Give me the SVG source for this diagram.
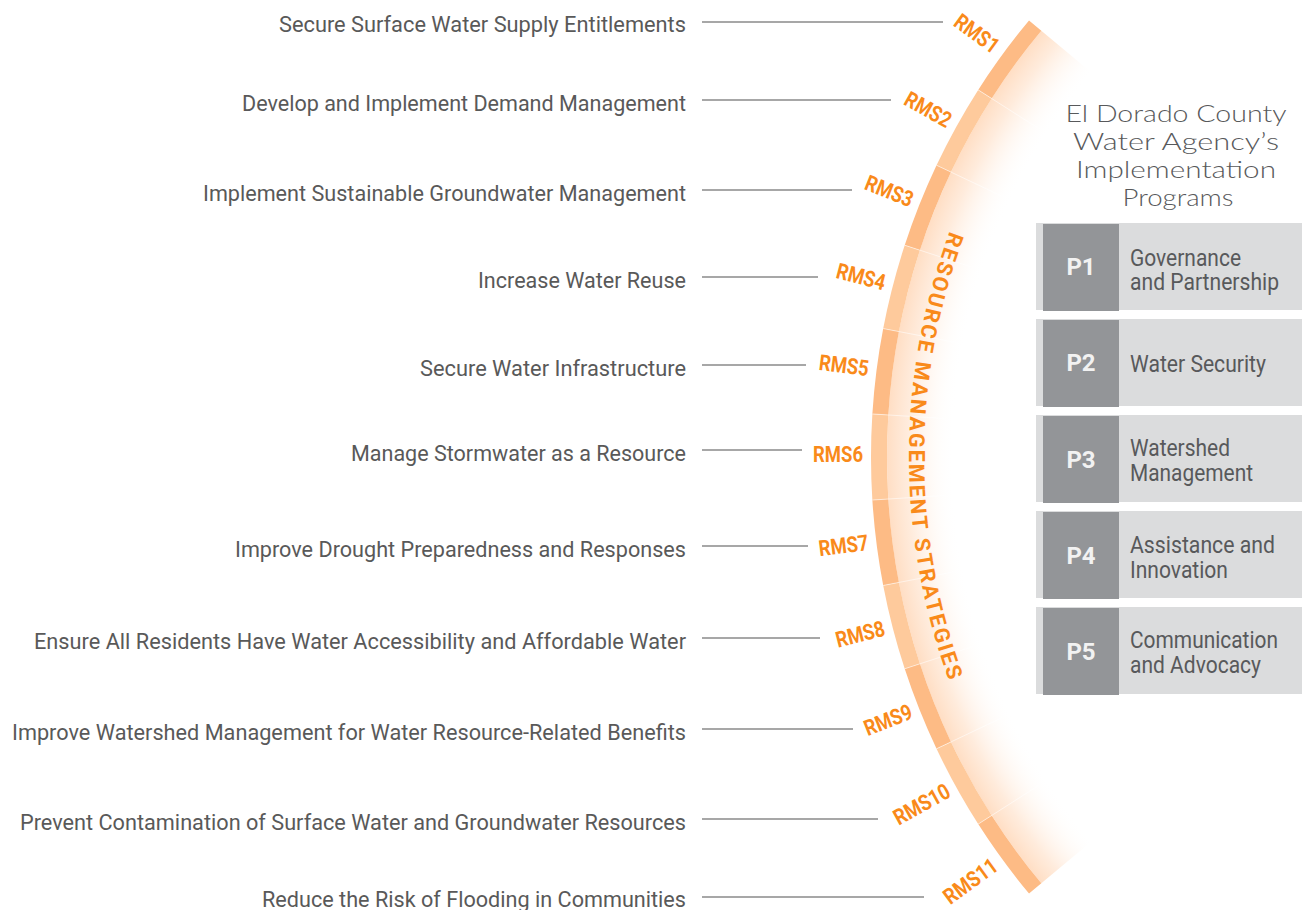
<svg xmlns="http://www.w3.org/2000/svg" width="1302" height="910" viewBox="0 0 1302 910">
<style>
.lt{font-family:Roboto,'Liberation Sans',sans-serif;font-size:22.5px;fill:#595959;text-anchor:end}
.ln{stroke:#8a8a8a;stroke-width:1.3;fill:none}
.rms{font-family:Roboto,'Liberation Sans',sans-serif;font-weight:700;font-size:22px;fill:#F98A1A;text-anchor:end}
.segA{fill:none;stroke:#FDBB85;stroke-width:16}
.segB{fill:none;stroke:#FECA9C;stroke-width:16}
.div{stroke:#ffffff;stroke-opacity:0.55;stroke-width:1}
.arcTitle{font-family:Roboto,'Liberation Sans',sans-serif;font-weight:700;font-size:21.5px;fill:#F98A1A;letter-spacing:2.3px}
.title{font-family:Lato,'Open Sans',sans-serif;font-weight:300;font-size:24px;fill:#58595B;text-anchor:middle}
.bgL{fill:#DBDCDD}
.bgD{fill:#939598}
.pl{font-family:Roboto,'Liberation Sans',sans-serif;font-weight:700;font-size:24px;fill:#F2F2F2;text-anchor:middle}
.pt{font-family:Roboto,'Liberation Sans',sans-serif;font-size:23px;fill:#58595B}
</style>
<defs>
<radialGradient id="fade" gradientUnits="userSpaceOnUse" cx="1553" cy="457" r="666">
<stop offset="0.9" stop-color="#FFFFFF" stop-opacity="0"/>
<stop offset="0.97" stop-color="#FFE8D6" stop-opacity="0.85"/>
<stop offset="1" stop-color="#FFDEC4"/>
</radialGradient>
<path id="titleArc" d="M 1058.23 44.76 A 644 644 0 0 0 1058.23 869.24"/>
</defs>

<g id="arc">
<path d="M 1066.68 51.80 A 633 633 0 0 0 1066.68 862.20" fill="none" stroke="url(#fade)" stroke-width="66"/>
</g>

<g id="rms-1"><path class="segA" d="M 1035.18 25.56 A 674 674 0 0 0 984.93 94.21"/><text class="rms" transform="translate(996.07 49.65) rotate(36.18)" y="6" textLength="50" lengthAdjust="spacingAndGlyphs">RMS1</text></g>
<g id="rms-2"><path class="segB" d="M 984.93 94.21 A 674 674 0 0 0 943.77 168.67"/><text class="rms" transform="translate(949.19 123.06) rotate(28.95)" y="6" textLength="50" lengthAdjust="spacingAndGlyphs">RMS2</text></g>
<g id="rms-3"><path class="segA" d="M 943.77 168.67 A 674 674 0 0 0 912.32 247.70"/><text class="rms" transform="translate(911.93 201.77) rotate(21.71)" y="6" textLength="50" lengthAdjust="spacingAndGlyphs">RMS3</text></g>
<g id="rms-4"><path class="segB" d="M 912.32 247.70 A 674 674 0 0 0 891.06 330.07"/><text class="rms" transform="translate(884.87 284.55) rotate(14.47)" y="6" textLength="50" lengthAdjust="spacingAndGlyphs">RMS4</text></g>
<g id="rms-5"><path class="segA" d="M 891.06 330.07 A 674 674 0 0 0 880.34 414.47"/><text class="rms" transform="translate(868.49 370.09) rotate(7.24)" y="6" textLength="50" lengthAdjust="spacingAndGlyphs">RMS5</text></g>
<g id="rms-6"><path class="segB" d="M 880.34 414.47 A 674 674 0 0 0 880.34 499.53"/><text class="rms" transform="translate(863 457)" y="5" textLength="50" lengthAdjust="spacingAndGlyphs">RMS6</text></g>
<g id="rms-7"><path class="segA" d="M 880.34 499.53 A 674 674 0 0 0 891.06 583.93"/><text class="rms" transform="translate(868.49 543.91) rotate(-7.24)" y="6" textLength="50" lengthAdjust="spacingAndGlyphs">RMS7</text></g>
<g id="rms-8"><path class="segB" d="M 891.06 583.93 A 674 674 0 0 0 912.32 666.30"/><text class="rms" transform="translate(884.87 629.45) rotate(-14.47)" y="6" textLength="50" lengthAdjust="spacingAndGlyphs">RMS8</text></g>
<g id="rms-9"><path class="segA" d="M 912.32 666.30 A 674 674 0 0 0 943.77 745.33"/><text class="rms" transform="translate(911.93 712.23) rotate(-21.71)" y="6" textLength="50" lengthAdjust="spacingAndGlyphs">RMS9</text></g>
<g id="rms-10"><path class="segB" d="M 943.77 745.33 A 674 674 0 0 0 984.93 819.79"/><text class="rms" transform="translate(949.19 790.94) rotate(-28.95)" y="6" textLength="61" lengthAdjust="spacingAndGlyphs">RMS10</text></g>
<g id="rms-11"><path class="segA" d="M 984.93 819.79 A 674 674 0 0 0 1035.18 888.44"/><text class="rms" transform="translate(996.07 864.35) rotate(-36.18)" y="6" textLength="61" lengthAdjust="spacingAndGlyphs">RMS11</text></g>

<g id="dividers">
<line class="div" x1="978.19" y1="89.90" x2="1038.87" y2="128.66"/>
<line class="div" x1="936.54" y1="165.25" x2="1001.62" y2="196.05"/>
<line class="div" x1="904.71" y1="245.22" x2="973.15" y2="267.58"/>
<line class="div" x1="883.20" y1="328.56" x2="953.91" y2="342.12"/>
<line class="div" x1="872.36" y1="413.96" x2="944.22" y2="418.51"/>
<line class="div" x1="872.36" y1="500.04" x2="944.22" y2="495.49"/>
<line class="div" x1="883.20" y1="585.44" x2="953.91" y2="571.88"/>
<line class="div" x1="904.71" y1="668.78" x2="973.15" y2="646.42"/>
<line class="div" x1="936.54" y1="748.75" x2="1001.62" y2="717.95"/>
<line class="div" x1="978.19" y1="824.10" x2="1038.87" y2="785.34"/>
</g>

<g id="arc-title">
<text class="arcTitle"><textPath href="#titleArc" startOffset="50%" text-anchor="middle">RESOURCE MANAGEMENT STRATEGIES</textPath></text>
</g>

<g id="strategies">
<g id="strategy-1"><text class="lt" x="686" y="32" textLength="407" lengthAdjust="spacingAndGlyphs">Secure Surface Water Supply Entitlements</text></g>
<g id="strategy-2"><text class="lt" x="686" y="110.5" textLength="444" lengthAdjust="spacingAndGlyphs">Develop and Implement Demand Management</text></g>
<g id="strategy-3"><text class="lt" x="686" y="200.5" textLength="483" lengthAdjust="spacingAndGlyphs">Implement Sustainable Groundwater Management</text></g>
<g id="strategy-4"><text class="lt" x="686" y="287.5" textLength="208" lengthAdjust="spacingAndGlyphs">Increase Water Reuse</text></g>
<g id="strategy-5"><text class="lt" x="686" y="375.5" textLength="266" lengthAdjust="spacingAndGlyphs">Secure Water Infrastructure</text></g>
<g id="strategy-6"><text class="lt" x="686" y="460.5" textLength="335" lengthAdjust="spacingAndGlyphs">Manage Stormwater as a Resource</text></g>
<g id="strategy-7"><text class="lt" x="686" y="556.5" textLength="451" lengthAdjust="spacingAndGlyphs">Improve Drought Preparedness and Responses</text></g>
<g id="strategy-8"><text class="lt" x="686" y="648.5" textLength="652" lengthAdjust="spacingAndGlyphs">Ensure All Residents Have Water Accessibility and Affordable Water</text></g>
<g id="strategy-9"><text class="lt" x="686" y="739.5" textLength="674" lengthAdjust="spacingAndGlyphs">Improve Watershed Management for Water Resource-Related Benefits</text></g>
<g id="strategy-10"><text class="lt" x="686" y="829.5" textLength="666" lengthAdjust="spacingAndGlyphs">Prevent Contamination of Surface Water and Groundwater Resources</text></g>
<g id="strategy-11"><text class="lt" x="686" y="907" textLength="424" lengthAdjust="spacingAndGlyphs">Reduce the Risk of Flooding in Communities</text></g>
</g>

<g id="connectors">
<line class="ln" x1="702" y1="22" x2="943" y2="22"/>
<line class="ln" x1="702" y1="100" x2="891" y2="100"/>
<line class="ln" x1="702" y1="190" x2="852" y2="190"/>
<line class="ln" x1="702" y1="277" x2="818" y2="277"/>
<line class="ln" x1="702" y1="365" x2="806" y2="365"/>
<line class="ln" x1="702" y1="450" x2="802" y2="450"/>
<line class="ln" x1="702" y1="546" x2="808" y2="546"/>
<line class="ln" x1="702" y1="638" x2="820" y2="638"/>
<line class="ln" x1="702" y1="729" x2="853" y2="729"/>
<line class="ln" x1="702" y1="819" x2="878" y2="819"/>
<line class="ln" x1="702" y1="897" x2="924" y2="897"/>
</g>

<g id="programs-title">
<text class="title" x="1176" y="122" textLength="221" lengthAdjust="spacingAndGlyphs">El Dorado County</text>
<text class="title" x="1176" y="150" textLength="206" lengthAdjust="spacingAndGlyphs">Water Agency’s</text>
<text class="title" x="1176" y="178" textLength="200" lengthAdjust="spacingAndGlyphs">Implementation</text>
<text class="title" x="1178" y="206" textLength="111" lengthAdjust="spacingAndGlyphs">Programs</text>
</g>

<g id="program-1">
<rect class="bgL" x="1036" y="223" width="266" height="87"/><rect class="bgD" x="1043" y="224" width="76" height="87"/>
<text class="pl" x="1081" y="275">P1</text>
<text class="pt" x="1130" y="266" textLength="111" lengthAdjust="spacingAndGlyphs">Governance</text>
<text class="pt" x="1130" y="290" textLength="149" lengthAdjust="spacingAndGlyphs">and Partnership</text>
</g>
<g id="program-2">
<rect class="bgL" x="1036" y="319" width="266" height="87"/><rect class="bgD" x="1043" y="320" width="76" height="87"/>
<text class="pl" x="1081" y="371">P2</text>
<text class="pt" x="1130" y="372" textLength="136" lengthAdjust="spacingAndGlyphs">Water Security</text>
</g>
<g id="program-3">
<rect class="bgL" x="1036" y="415" width="266" height="87"/><rect class="bgD" x="1043" y="416" width="76" height="87"/>
<text class="pl" x="1081" y="468">P3</text>
<text class="pt" x="1130" y="456" textLength="100" lengthAdjust="spacingAndGlyphs">Watershed</text>
<text class="pt" x="1130" y="481" textLength="123" lengthAdjust="spacingAndGlyphs">Management</text>
</g>
<g id="program-4">
<rect class="bgL" x="1036" y="511" width="266" height="87"/><rect class="bgD" x="1043" y="512" width="76" height="87"/>
<text class="pl" x="1081" y="564">P4</text>
<text class="pt" x="1130" y="553" textLength="145" lengthAdjust="spacingAndGlyphs">Assistance and</text>
<text class="pt" x="1130" y="578" textLength="98" lengthAdjust="spacingAndGlyphs">Innovation</text>
</g>
<g id="program-5">
<rect class="bgL" x="1036" y="607" width="266" height="87"/><rect class="bgD" x="1043" y="608" width="76" height="87"/>
<text class="pl" x="1081" y="660">P5</text>
<text class="pt" x="1130" y="648" textLength="148" lengthAdjust="spacingAndGlyphs">Communication</text>
<text class="pt" x="1130" y="673" textLength="131" lengthAdjust="spacingAndGlyphs">and Advocacy</text>
</g>
</svg>
